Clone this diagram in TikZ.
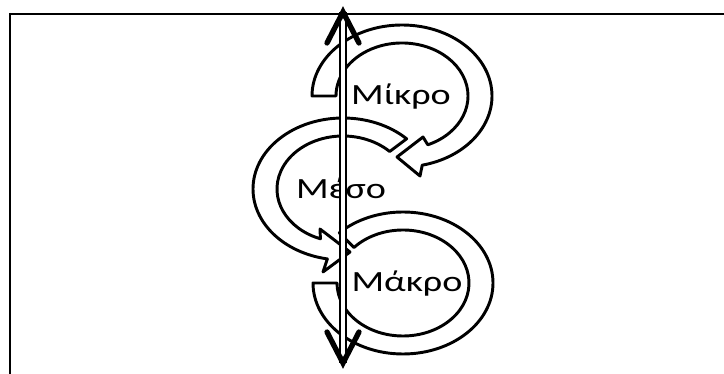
\documentclass[tikz,border=0pt]{standalone}
\usepackage{fontspec}
\setmainfont{Carlito}
\usetikzlibrary{positioning}

\tikzset{
  ring/.style={draw, fill=white, line width=2.2pt, line join=round},
  level/.style={font=\fontsize{22}{26}\selectfont, inner sep=0pt},
  chevron/.style={line width=4pt, line cap=round, line join=miter},
}

\begin{document}
\begin{tikzpicture}[x=0.75pt, y=0.75pt]
    \useasboundingbox (0,0) rectangle (724,374);

    % frame
    \draw[line width=1.2pt] (9,360) -- (724,360);
    \draw[line width=2.2pt] (10,361) -- (10,0);

    % Makro ring
    \begin{scope}[shift={(403,91)}]
        \draw[ring] (180:90 and 71) arc[start angle=180, end angle=495, x radius=90, y radius=71]
            -- (498:66 and 53) arc[start angle=498, end angle=180, x radius=66, y radius=53] -- cycle;
    \end{scope}

    % Meso ring
    \begin{scope}[shift={(343,185)}]
        \draw[ring] (45:90 and 71) arc[start angle=45, end angle=260, x radius=90, y radius=71]
            -- (-20,-83) -- (7,-63) -- (-23,-40)
            -- (250:66 and 53) arc[start angle=250, end angle=45, x radius=66, y radius=53] -- cycle;
    \end{scope}

    % Mikro ring
    \begin{scope}[shift={(402,278)}]
        \draw[ring] (180:90 and 71) arc[start angle=180, end angle=-77, x radius=90, y radius=71]
            -- (18,-80) -- (-5,-61) -- (21,-41)
            -- (-67:66 and 53) arc[start angle=-67, end angle=180, x radius=66, y radius=53] -- cycle;
    \end{scope}

    \node[level] (mikro) at (401,277) {\scalebox{1.3}[1]{Μίκρο}};
    \node[level] (meso) at (341,186) {\scalebox{1.3}[1]{Μέσο}};
    \node[level] (makro) at (407,90) {\scalebox{1.3}[1]{Μάκρο}};

    % scale axis
    \coordinate (up) at (343,362);
    \coordinate (down) at (343,11);
    \draw[double, double distance=3.5pt, line width=1pt] (up) -- (down);
    \draw[chevron] (up) ++(-16,-31) -- (up) -- ++(16,-31);
    \draw[chevron] (down) ++(-16,31) -- (down) -- ++(16,31);

\end{tikzpicture}
\end{document}
